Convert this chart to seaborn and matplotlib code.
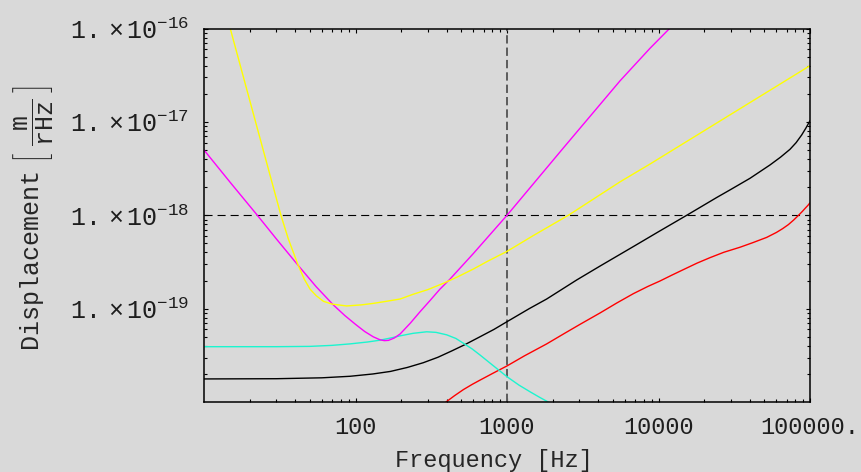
import matplotlib
matplotlib.use("Agg")
import matplotlib.pyplot as plt
from matplotlib.ticker import FixedLocator, FixedFormatter, LogLocator, NullFormatter
import pandas as pd
import seaborn as sns

# ---- noise curves: frequency [Hz] and displacement [m/rHz] ----
yellow_f = [14.9, 22.5, 32.2, 36, 41.9, 46, 50.1, 55, 61.4, 70, 87.5, 110, 131, 160,
            197, 241, 300, 380, 466, 600, 750, 1000, 1500, 2540, 5570, 8790, 29650,
            100000]
yellow_d = [1.0e-16, 8.5e-18, 1.0e-18, 5.6e-19, 2.9e-19, 2.06e-19, 1.62e-19, 1.38e-19,
            1.2e-19, 1.12e-19, 1.07e-19, 1.1e-19, 1.14e-19, 1.2e-19, 1.27e-19, 1.43e-19,
            1.6e-19, 1.87e-19, 2.17e-19, 2.66e-19, 3.24e-19, 4.11e-19, 6.1e-19, 1.0e-18,
            2.28e-18, 3.54e-18, 1.19e-17, 4.0e-17]

magenta_f = [10, 15, 22.5, 30, 41.9, 55, 71.3, 85, 100, 115, 131, 145, 155, 165, 180,
             197, 230, 267, 310, 361, 421, 600, 1000, 2355, 5570, 8790, 11830]
magenta_d = [5.0e-18, 2.22e-18, 1.0e-18, 5.6e-19, 2.9e-19, 1.72e-19, 1.1e-19, 8.45e-20,
             6.8e-20, 5.7e-20, 5.0e-20, 4.65e-20, 4.55e-20, 4.58e-20, 4.85e-20,
             5.36e-20, 7.0e-20, 9.3e-20, 1.22e-19, 1.62e-19, 2.08e-19, 3.9e-19, 1.0e-18,
             5.26e-18, 2.75e-17, 6.14e-17, 1.0e-16]

cyan_f = [10, 30, 50, 70, 92, 120, 145, 175, 197, 240, 295, 340, 400, 460, 515, 590,
          664, 800, 1000, 1200, 1419, 1650, 1875]
cyan_d = [3.92e-20, 3.92e-20, 3.95e-20, 4.05e-20, 4.2e-20, 4.4e-20, 4.6e-20, 4.9e-20,
          5.12e-20, 5.45e-20, 5.66e-20, 5.58e-20, 5.25e-20, 4.8e-20, 4.27e-20, 3.7e-20,
          3.19e-20, 2.5e-20, 1.87e-20, 1.52e-20, 1.29e-20, 1.12e-20, 1.0e-20]

black_f = [10, 30, 60, 92, 130, 170, 220, 280, 350, 430, 530, 664, 820, 1000, 1400,
           1828, 2884, 4111, 7000, 10000, 15350, 24210, 29650, 40180, 54450, 64000,
           73800, 81000, 88100, 94000, 100000]
black_d = [1.77e-20, 1.78e-20, 1.82e-20, 1.89e-20, 2.0e-20, 2.13e-20, 2.35e-20, 2.64e-20,
           3.02e-20, 3.52e-20, 4.14e-20, 5.01e-20, 6.0e-20, 7.26e-20, 1.0e-19, 1.27e-19,
           2.03e-19, 2.86e-19, 4.74e-19, 6.67e-19, 1.0e-18, 1.55e-18, 1.87e-18, 2.49e-18,
           3.46e-18, 4.2e-18, 5.09e-18, 6.0e-18, 7.24e-18, 8.6e-18, 1.03e-17]

red_f = [395, 450, 515, 590, 664, 800, 1000, 1300, 1828, 2400, 3034, 4111, 5300, 6830,
         8500, 10230, 12200, 14590, 18000, 21880, 27000, 34510, 42000, 51760, 60000,
         66000, 72000, 78000, 84000, 89000, 93000, 97000, 100000]
red_d = [1.0e-20, 1.17e-20, 1.36e-20, 1.55e-20, 1.72e-20, 2.02e-20, 2.44e-20, 3.12e-20,
         4.2e-20, 5.45e-20, 6.8e-20, 9.0e-20, 1.15e-19, 1.45e-19, 1.73e-19, 1.98e-19,
         2.28e-19, 2.62e-19, 3.08e-19, 3.52e-19, 4.02e-19, 4.55e-19, 5.1e-19, 5.8e-19,
         6.55e-19, 7.2e-19, 7.95e-19, 8.9e-19, 1.0e-18, 1.1e-18, 1.19e-18, 1.28e-18,
         1.36e-18]

x_ticks = [100, 1000, 10000, 100000]
x_tick_labels = ["100", "1000", "10000", "100000."]
y_ticks = [1e-19, 1e-18, 1e-17, 1e-16]
y_tick_labels = [r"$1.\,\times10^{-19}$", r"$1.\,\times10^{-18}$",
                 r"$1.\,\times10^{-17}$", r"$1.\,\times10^{-16}$"]

curves = {
    "black": (black_f, black_d),
    "red": (red_f, red_d),
    "cyan": (cyan_f, cyan_d),
    "magenta": (magenta_f, magenta_d),
    "yellow": (yellow_f, yellow_d),
}
palette = {"black": "#000000", "red": "#ff0000", "cyan": "#1cf5cf",
           "magenta": "#ff00ff", "yellow": "#ffff00"}

frames = [pd.DataFrame({"freq": f, "disp": d, "curve": name})
          for name, (f, d) in curves.items()]
df = pd.concat(frames, ignore_index=True)

BG = "#d9d9d9"
INK = "#1e1e1e"
sns.set_theme(style="ticks")
plt.rcParams.update({
    "font.family": ["Liberation Mono", "DejaVu Sans"],
    "mathtext.fontset": "custom",
    "mathtext.rm": "Liberation Mono",
    "mathtext.it": "Liberation Mono",
    "mathtext.tt": "Liberation Mono",
    "mathtext.bf": "Liberation Mono:bold",
    "font.size": 17,
    "figure.facecolor": BG,
    "axes.facecolor": BG,
    "savefig.facecolor": BG,
    "text.color": INK,
    "xtick.color": "black",
    "ytick.color": "black",
    "xtick.labelcolor": INK,
    "ytick.labelcolor": INK,
    "lines.scale_dashes": False,
})

W, H = 861, 472
fig = plt.figure(figsize=(W / 100, H / 100), dpi=100)
left, right, top, bottom = 204, 810, 28.5, 402.1
ax = fig.add_axes([left / W, 1 - bottom / H, (right - left) / W, (bottom - top) / H])
ax.set_xscale("log")
ax.set_yscale("log")

sns.lineplot(data=df, x="freq", y="disp", hue="curve", palette=palette,
             hue_order=list(curves.keys()), estimator=None, sort=False,
             legend=False, linewidth=1.0, ax=ax)

ax.set_xlim(10, 100000)
ax.set_ylim(1e-20, 1e-16)

# reference lines at 1 kHz and 1e-18
ax.axhline(1e-18, color="black", linewidth=0.8, dashes=(5.8, 3.6), zorder=1)
ax.axvline(1000, color="#5c5c5c", linewidth=1.4, dashes=(6, 2.9), zorder=1)

ax.xaxis.set_major_locator(FixedLocator(x_ticks))
ax.xaxis.set_major_formatter(FixedFormatter(x_tick_labels))
ax.yaxis.set_major_locator(FixedLocator(y_ticks))
ax.yaxis.set_major_formatter(FixedFormatter(y_tick_labels))
for axis in (ax.xaxis, ax.yaxis):
    axis.set_minor_locator(LogLocator(base=10, subs=range(2, 10), numticks=20))
    axis.set_minor_formatter(NullFormatter())

ax.tick_params(which="both", direction="in", top=True, right=True, width=0.8)
ax.tick_params(which="major", length=3.2)
ax.tick_params(which="minor", length=2.0)
ax.tick_params(axis="y", which="major", pad=11, labelsize=18)
ax.tick_params(axis="x", which="major", pad=10, labelsize=17)

for s in ax.spines.values():
    s.set_color("black")
    s.set_linewidth(1.1)

ax.set_xlabel("Frequency [Hz]", fontsize=17)
ax.xaxis.set_label_coords((493.5 - left) / (right - left), -(460 - bottom) / (bottom - top))
ax.xaxis.label.set_va("center")

ax.set_ylabel(r"$\mathrm{Displacement}\ \,\left[\ \,\dfrac{\mathrm{m}}{\mathrm{rHz}}\ \right]$",
              fontsize=18)
ax.yaxis.set_label_coords((33 - left) / (right - left), (bottom - 218.5) / (bottom - top))
ax.yaxis.label.set_va("center")
ax.yaxis.label.set_ha("center")

fig.savefig("out.png", dpi=100)
